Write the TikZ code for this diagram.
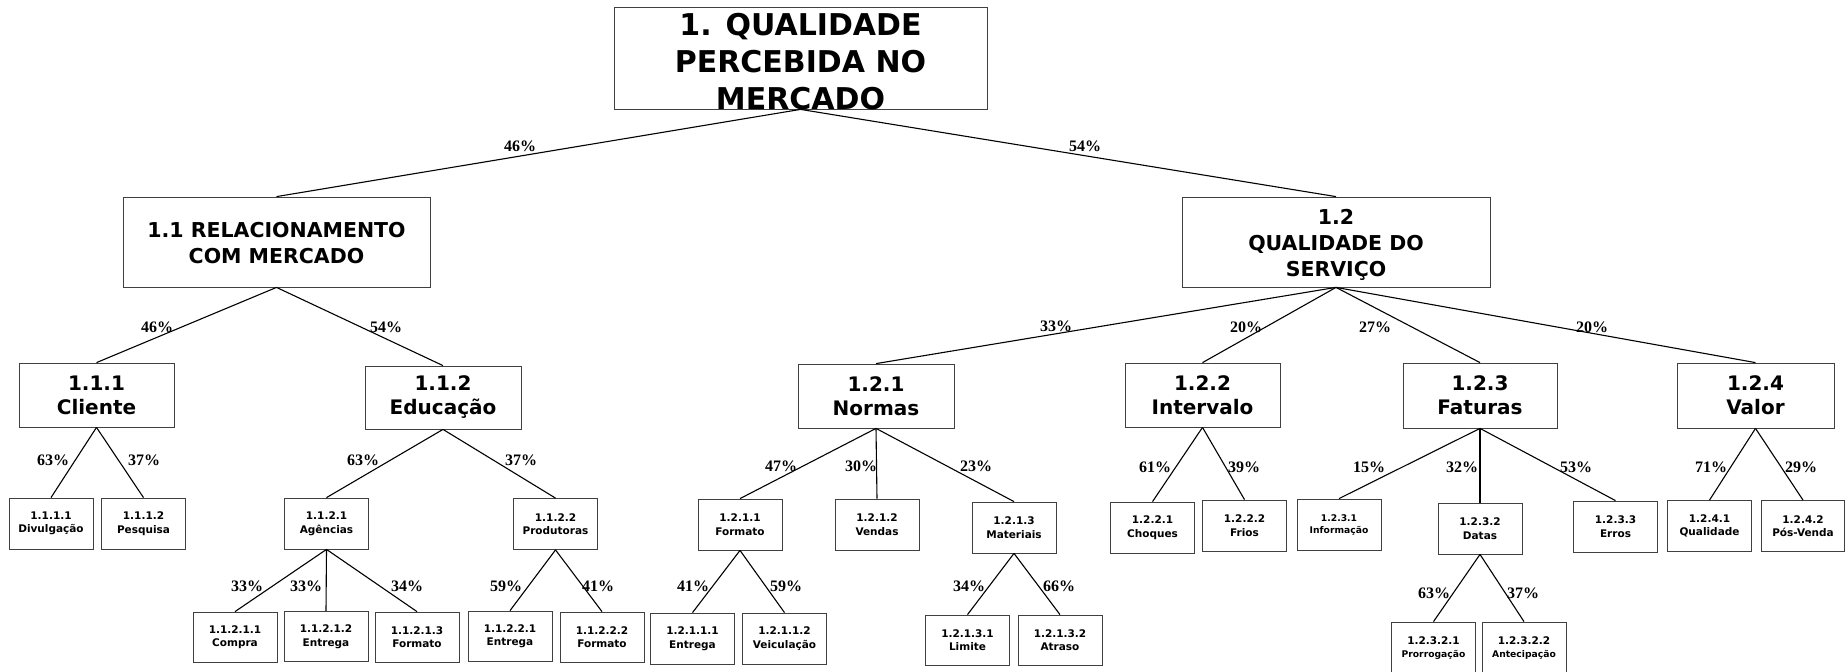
\documentclass[tikz,border=0pt]{standalone}
\usepackage{fontspec}
\setmainfont{DejaVu Sans}
\newfontfamily\pctfont{Liberation Serif}
\newcommand\fA{\fontsize{30}{37}\selectfont\bfseries}
\newcommand\fB{\fontsize{20.5}{26}\selectfont\bfseries}
\newcommand\fC{\fontsize{20}{24}\selectfont\bfseries}
\newcommand\fD{\fontsize{10.5}{13.5}\selectfont\bfseries}
\newcommand\fE{\fontsize{9.2}{12}\selectfont\bfseries}
\newcommand\fP{\pctfont\fontsize{16}{18}\selectfont\bfseries}
\begin{document}
\begin{tikzpicture}[x=1pt,y=-1pt,
  box/.style={draw=black!75, line width=0.8pt, inner sep=0pt, align=center},
  big/.style={box, minimum width=156pt, minimum height=64pt, font=\fC},
  sm/.style={box, minimum width=84pt, minimum height=51pt, font=\fD},
  con/.style={line width=1.1pt, black},
  pct/.style={font=\fP, inner sep=0pt}]
\useasboundingbox (0,0) rectangle (1845,672);
\clip (0,0) rectangle (1845,672);
\fill[white] (0,0) rectangle (1845,672);

% level 0
\node[box, minimum width=373pt, minimum height=102pt] (root) at (800.5,58) {};
\node[font=\fA, align=center, inner sep=0pt] (roottxt) at (800.5,61.5) {1. QUALIDADE\\PERCEBIDA NO\\MERCADO};

% level 1
\node[box, minimum width=307pt, minimum height=90pt, font=\fB] (n11) at (276.5,242) {};
\node[font=\fB, align=center, inner sep=0pt] (n11txt) at (276.5,243.5) {1.1 RELACIONAMENTO\\COM MERCADO};
\node[box, minimum width=308pt, minimum height=90pt, font=\fB] (n12) at (1336,242) {};
\node[font=\fB, align=center, inner sep=0pt] (n12txt) at (1336,245) {1.2\\QUALIDADE DO\\SERVIÇO};

% level 2
\node[big, minimum width=155pt] (n111) at (96.5,395) {1.1.1\\Cliente};
\node[big, minimum height=63pt] (n112) at (443,397.5) {1.1.2\\Educação};
\node[big] (n121) at (876,396) {1.2.1\\Normas};
\node[big, minimum width=155pt] (n122) at (1202.5,395) {1.2.2\\Intervalo};
\node[big, minimum width=154pt, minimum height=65pt] (n123) at (1480,395.5) {1.2.3\\Faturas};
\node[big, minimum width=157pt, minimum height=65pt] (n124) at (1755.5,395.5) {1.2.4\\Valor};

% level 3
\node[sm] (n1111) at (51,523.5) {1.1.1.1\\Divulgação};
\node[sm] (n1112) at (143.5,523.5) {1.1.1.2\\Pesquisa};
\node[sm] (n1121) at (326.5,523.5) {1.1.2.1\\Agências};
\node[sm] (n1122) at (555.5,524) {1.1.2.2\\Produtoras};
\node[sm] (n1211) at (740,524.5) {1.2.1.1\\Formato};
\node[sm] (n1212) at (877,524.5) {1.2.1.2\\Vendas};
\node[sm] (n1213) at (1014,527.5) {1.2.1.3\\Materiais};
\node[sm] (n1221) at (1152.5,527.5) {1.2.2.1\\Choques};
\node[sm] (n1222) at (1244.5,525.5) {1.2.2.2\\Frios};
\node[sm, font=\fE] (n1231) at (1339,524.5) {1.2.3.1\\Informação};
\node[sm] (n1232) at (1480,528.5) {1.2.3.2\\Datas};
\node[sm] (n1233) at (1615.5,526.5) {1.2.3.3\\Erros};
\node[sm] (n1241) at (1709.5,526) {1.2.4.1\\Qualidade};
\node[sm, minimum width=83pt] (n1242) at (1803,526) {1.2.4.2\\Pós-Venda};

% level 4
\node[sm, minimum height=50pt] (n11211) at (235,637) {1.1.2.1.1\\Compra};
\node[sm, minimum height=50pt] (n11212) at (326,636.5) {1.1.2.1.2\\Entrega};
\node[sm, minimum height=50pt] (n11213) at (417,637) {1.1.2.1.3\\Formato};
\node[sm, minimum height=50pt] (n11221) at (510,636) {1.1.2.2.1\\Entrega};
\node[sm, minimum height=50pt] (n11222) at (602,637) {1.1.2.2.2\\Formato};
\node[sm] (n12111) at (692.5,638.5) {1.2.1.1.1\\Entrega};
\node[sm] (n12112) at (784.5,638.5) {1.2.1.1.2\\Veiculação};
\node[sm, minimum height=50pt] (n12131) at (967.5,640) {1.2.1.3.1\\Limite};
\node[sm, minimum height=50pt] (n12132) at (1060,640) {1.2.1.3.2\\Atraso};
\node[sm, minimum height=52pt] (n12321) at (1433.5,648) {1.2.3.2.1\\{\fE Prorrogação}};
\node[sm, minimum height=52pt] (n12322) at (1524,648) {1.2.3.2.2\\{\fE Antecipação}};

% connectors
\draw[con] (root.south) -- (n11.north);
\draw[con] (root.south) -- (n12.north);
\draw[con] (n11.south) -- (n111.north);
\draw[con] (n11.south) -- (n112.north);
\draw[con] (n12.south) -- (n121.north);
\draw[con] (n12.south) -- (n122.north);
\draw[con] (n12.south) -- (n123.north);
\draw[con] (n12.south) -- (n124.north);
\draw[con] (n111.south) -- (n1111.north);
\draw[con] (n111.south) -- (n1112.north);
\draw[con] (n112.south) -- (n1121.north);
\draw[con] (n112.south) -- (n1122.north);
\draw[con] (n1121.south) -- (n11211.north);
\draw[con] (n1121.south) -- (n11212.north);
\draw[con] (n1121.south) -- (n11213.north);
\draw[con] (n1122.south) -- (n11221.north);
\draw[con] (n1122.south) -- (n11222.north);
\draw[con] (n121.south) -- (n1211.north);
\draw[con] (n121.south) -- (n1212.north);
\draw[con] (n121.south) -- (n1213.north);
\draw[con] (n1211.south) -- (n12111.north);
\draw[con] (n1211.south) -- (n12112.north);
\draw[con] (n1213.south) -- (n12131.north);
\draw[con] (n1213.south) -- (n12132.north);
\draw[con] (n122.south) -- (n1221.north);
\draw[con] (n122.south) -- (n1222.north);
\draw[con] (n123.south) -- (n1231.north);
\draw[con] (n123.south) -- (n1232.north);
\draw[con] (n123.south) -- (n1233.north);
\draw[con] (n1232.south) -- (n12321.north);
\draw[con] (n1232.south) -- (n12322.north);
\draw[con] (n124.south) -- (n1241.north);
\draw[con] (n124.south) -- (n1242.north);

% percentages
\node[pct] (p11) at (520,146) {46\%};
\node[pct] (p12) at (1085,146) {54\%};
\node[pct] (p111) at (157,327) {46\%};
\node[pct] (p112) at (386,327) {54\%};
\node[pct] (p121) at (1056,326) {33\%};
\node[pct] (p122) at (1246,327) {20\%};
\node[pct] (p123) at (1375,327) {27\%};
\node[pct] (p124) at (1592,327) {20\%};
\node[pct] (p1111) at (53,460) {63\%};
\node[pct] (p1112) at (144,460) {37\%};
\node[pct] (p1121) at (363,460) {63\%};
\node[pct] (p1122) at (521,460) {37\%};
\node[pct] (p11211) at (247,586) {33\%};
\node[pct] (p11212) at (306,586) {33\%};
\node[pct] (p11213) at (407,586) {34\%};
\node[pct] (p11221) at (506,586) {59\%};
\node[pct] (p11222) at (598,586) {41\%};
\node[pct] (p1211) at (781,466) {47\%};
\node[pct] (p1212) at (861,466) {30\%};
\node[pct] (p1213) at (976,466) {23\%};
\node[pct] (p12111) at (693,586) {41\%};
\node[pct] (p12112) at (786,586) {59\%};
\node[pct] (p12131) at (969,586) {34\%};
\node[pct] (p12132) at (1059,586) {66\%};
\node[pct] (p1221) at (1155,467) {61\%};
\node[pct] (p1222) at (1244,467) {39\%};
\node[pct] (p1231) at (1369,467) {15\%};
\node[pct] (p1232) at (1462,467) {32\%};
\node[pct] (p1233) at (1576,467) {53\%};
\node[pct] (p1241) at (1711,467) {71\%};
\node[pct] (p1242) at (1801,467) {29\%};
\node[pct] (p12321) at (1434,593) {63\%};
\node[pct] (p12322) at (1523,593) {37\%};
\end{tikzpicture}
\end{document}
